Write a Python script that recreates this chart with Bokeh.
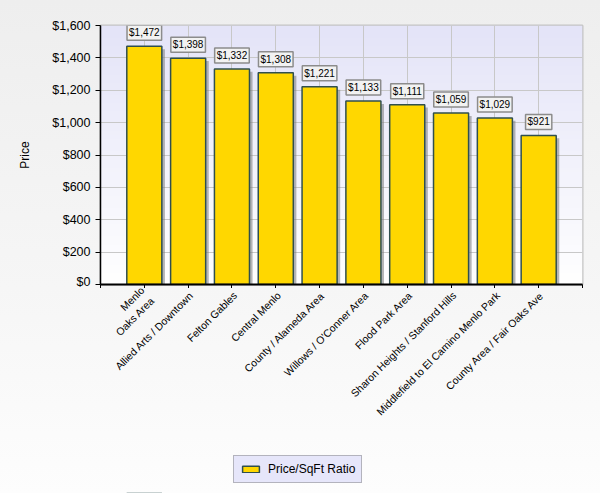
import numpy as np
from bokeh.plotting import figure
from bokeh.layouts import column
from bokeh.models import (ColumnDataSource, Range1d, FixedTicker, NumeralTickFormatter,
                          Legend, LegendItem)
from bokeh.transform import dodge
from bokeh.core.properties import value
from bokeh.embed import file_html
from bokeh.resources import INLINE

categories = ["Menlo Oaks Area", "Allied Arts / Downtown", "Felton Gables", "Central Menlo",
              "County / Alameda Area", "Willows / O'Conner Area", "Flood Park Area",
              "Sharon Heights / Stanford Hills", "Middlefield to El Camino Menlo Park",
              "County Area / Fair Oaks Ave"]
prices = [1472, 1398, 1332, 1308, 1221, 1133, 1111, 1059, 1029, 921]
y_ticks = [0, 200, 400, 600, 800, 1000, 1200, 1400, 1600]
series_name = "Price/SqFt Ratio"
axis_title = "Price"

FONT = "Liberation Sans"
n = len(categories)
xs = list(range(1, n + 1))
x_max = n + 1
y_max = y_ticks[-1]

# layout constants (pixels)
LEFT, RIGHT, TOP = 100, 18, 25
FW, FH = 482, 259
TICK = 4
BH = 205  # height of lower (labels + legend) strip

# the first label would run past the left edge of the label strip: wrap it
display_cats = list(categories)
first_words = display_cats[0].split(" ", 1)
if len(first_words) == 2:
    display_cats[0] = first_words[0] + "\n" + first_words[1]

src = ColumnDataSource(dict(
    x=xs, price=prices, cat=display_cats,
    shadow_top=[v - 18 for v in prices],
    lbl=["${:,}".format(v) for v in prices],
))

p = figure(frame_width=FW, frame_height=FH, output_backend="svg", toolbar_location=None,
           x_range=Range1d(0, x_max), y_range=Range1d(0, y_max),
           min_border_left=LEFT, min_border_right=RIGHT, min_border_top=TOP, min_border_bottom=0)
p.stylesheets = [":host { background: linear-gradient(#eeeeee, #f6f6f6); }"]
p.border_fill_alpha = 0
p.background_fill_color = "white"
p.outline_line_color = "#c4c4c4"
p.outline_line_width = 2

# plot-area gradient (lavender -> white)
rows = 64
grad = np.zeros((rows, 1), dtype=np.uint32)
view = grad.view(dtype=np.uint8).reshape((rows, 1, 4))
for i in range(rows):
    t = i / (rows - 1)  # 0 bottom, 1 top
    r = int(255 - t * (255 - 0xe4))
    g = int(255 - t * (255 - 0xe4))
    b = int(255 - t * (255 - 0xf8))
    view[i, 0] = [r, g, b, 255]
p.image_rgba(image=[grad], x=0, y=0, dw=x_max, dh=y_max, level="image")

# grids
p.xgrid.ticker = FixedTicker(ticks=list(range(0, x_max + 1)))
p.ygrid.ticker = FixedTicker(ticks=y_ticks)
p.xgrid.grid_line_color = "#c8c8c8"
p.ygrid.grid_line_color = "#c8c8c8"

# bar shadows
p.vbar(x=dodge("x", 0.07, range=p.x_range), top="shadow_top", width=0.8, source=src,
       fill_color="#7a7a7a", fill_alpha=0.55, line_color=None)
bars = p.vbar(x="x", top="price", width=0.8, source=src,
              fill_color="#FFD700", line_color="#2f4f4f", line_width=1.5)

# value labels with boxes
p.text(x="x", y="price", text="lbl", source=src, y_offset=-6,
       text_align="center", text_baseline="bottom",
       text_font=value(FONT), text_font_size="10px", text_color="black",
       background_fill_color="#f2f2f2", border_line_color="#8c8c8c", border_line_width=1.5,
       padding=2)

# x axis: line + ticks only (labels drawn in the strip below)
p.xaxis.ticker = FixedTicker(ticks=list(range(0, x_max + 1)))
p.xaxis.major_label_overrides = {i: "" for i in range(0, x_max + 1)}
p.xaxis.major_label_text_font_size = "0px"
p.xaxis.major_label_standoff = 0
p.xaxis.major_tick_in = 0
p.xaxis.major_tick_out = TICK
p.xaxis.minor_tick_line_color = None
p.xaxis.axis_line_width = 2
p.xaxis.axis_line_color = "black"

p.yaxis.ticker = FixedTicker(ticks=y_ticks)
p.yaxis.formatter = NumeralTickFormatter(format="$0,0")
p.yaxis.major_label_text_font = FONT
p.yaxis.major_label_text_font_size = "12.5px"
p.yaxis.major_label_text_color = "black"
p.yaxis.major_tick_in = 0
p.yaxis.major_tick_out = 5
p.yaxis.minor_tick_line_color = None
p.yaxis.axis_line_width = 1.5
p.yaxis.axis_line_color = "black"
p.yaxis.axis_label = axis_title
p.yaxis.axis_label_text_font = FONT
p.yaxis.axis_label_text_font_size = "12px"
p.yaxis.axis_label_text_font_style = "normal"
p.yaxis.axis_label_text_color = "black"
p.yaxis.axis_label_standoff = 17

# lower strip: category labels + legend (same borders as the main chart)
q = figure(frame_width=FW, frame_height=BH, output_backend="svg", toolbar_location=None,
           x_range=p.x_range, y_range=Range1d(0, BH),
           x_axis_type=None, y_axis_type=None,
           min_border_left=LEFT, min_border_right=RIGHT, min_border_top=0, min_border_bottom=0)
q.stylesheets = [":host { background: linear-gradient(#f6f6f6, #fdfdfd); }"]
q.border_fill_alpha = 0
q.background_fill_alpha = 0
q.outline_line_color = None
q.xgrid.visible = False
q.ygrid.visible = False

q.text(x="x", y=BH, text="cat", source=src, angle=np.pi / 4,
       x_offset=3, y_offset=5, text_align="right", text_baseline="middle",
       text_font=value(FONT), text_font_size="10.5px", text_color="black")

# legend swatch proxy kept far outside the visible strip
proxy_src = ColumnDataSource(dict(x=[1], top=[-BH], bottom=[-BH - 1]))
proxy = q.vbar(x="x", top="top", bottom="bottom", width=0.8, source=proxy_src,
               fill_color="#FFD700", line_color="#2f4f4f", line_width=1.5)
legend = Legend(items=[LegendItem(label=series_name, renderers=[proxy])],
                location=(133, 10), orientation="horizontal",
                background_fill_color="#e6e6fa", background_fill_alpha=1,
                border_line_color="#808080", border_line_width=1.5,
                label_text_font=FONT, label_text_font_size="12px", label_text_color="black",
                glyph_width=21, glyph_height=8, label_standoff=7,
                padding=6, margin=0)
q.add_layout(legend, "center")

layout = column(p, q, spacing=0)
open("out.html", "w").write(file_html(layout, INLINE))
